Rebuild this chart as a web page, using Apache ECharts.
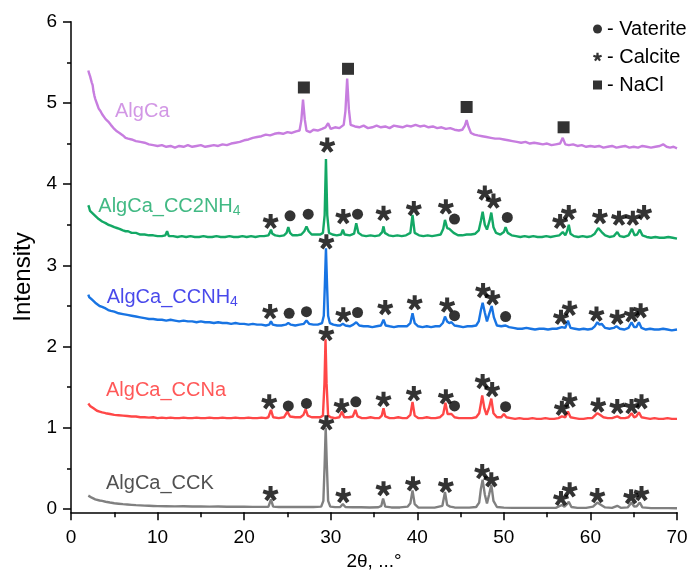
<!DOCTYPE html>
<html>
<head>
<meta charset="utf-8">
<script src="https://cdn.jsdelivr.net/npm/echarts@6/dist/echarts.min.js"></script>
<style>
  html, body { margin: 0; padding: 0; background: #fff; }
  #chart { width: 691px; height: 571px; }
</style>
</head>
<body>
<div id="chart"></div>
<script>
// XRD patterns (2θ in degrees, intensity with vertical offsets per sample)
const algCa = [[2.0,5.40],[2.1,5.36],[2.2,5.33],[2.3,5.31],[2.4,5.25],[2.5,5.22],[2.6,5.14],[2.7,5.09],[2.8,5.05],[2.9,5.02],[3.0,4.99],[3.2,4.93],[3.4,4.90],[3.6,4.86],[3.8,4.84],[4.0,4.80],[4.3,4.77],[4.6,4.73],[5.0,4.68],[5.3,4.65],[5.6,4.63],[6.0,4.60],[6.3,4.57],[6.6,4.56],[7.0,4.55],[7.5,4.53],[8.0,4.52],[8.5,4.51],[9.0,4.49],[9.5,4.48],[10.0,4.47],[10.5,4.48],[11.0,4.46],[11.5,4.47],[12.0,4.45],[12.5,4.47],[13.0,4.46],[13.5,4.48],[14.0,4.46],[14.5,4.47],[15.0,4.48],[15.5,4.46],[16.0,4.47],[16.5,4.48],[17.0,4.47],[17.5,4.49],[18.0,4.48],[18.5,4.50],[19.0,4.51],[19.5,4.52],[20.0,4.54],[20.5,4.55],[21.0,4.57],[21.5,4.58],[22.0,4.59],[22.5,4.61],[23.0,4.60],[23.5,4.62],[24.0,4.63],[24.5,4.62],[25.0,4.64],[25.5,4.63],[26.0,4.65],[26.4,4.66],[26.6,4.78],[26.8,5.04],[27.0,4.80],[27.2,4.66],[27.6,4.64],[28.0,4.67],[28.5,4.66],[29.0,4.68],[29.4,4.70],[29.7,4.75],[30.0,4.68],[30.5,4.70],[31.0,4.69],[31.5,4.73],[31.7,4.90],[31.9,5.30],[32.1,4.92],[32.3,4.73],[32.8,4.71],[33.3,4.70],[33.8,4.72],[34.3,4.69],[34.8,4.70],[35.3,4.72],[35.8,4.70],[36.3,4.71],[36.8,4.69],[37.3,4.72],[37.8,4.71],[38.3,4.70],[38.8,4.72],[39.3,4.71],[39.8,4.73],[40.3,4.71],[40.8,4.72],[41.3,4.70],[41.8,4.71],[42.3,4.69],[42.8,4.70],[43.3,4.68],[43.8,4.69],[44.3,4.67],[44.8,4.66],[45.2,4.67],[45.5,4.72],[45.7,4.79],[45.9,4.71],[46.2,4.63],[46.6,4.61],[47.0,4.60],[47.5,4.59],[48.0,4.58],[48.5,4.57],[49.0,4.56],[49.5,4.56],[50.0,4.55],[50.5,4.54],[51.0,4.53],[51.5,4.52],[52.0,4.51],[52.5,4.52],[53.0,4.50],[53.5,4.51],[54.0,4.50],[54.5,4.49],[55.0,4.50],[55.5,4.48],[56.0,4.49],[56.5,4.50],[56.8,4.57],[57.1,4.49],[57.5,4.48],[58.0,4.49],[58.5,4.47],[59.0,4.48],[59.5,4.46],[60.0,4.47],[60.5,4.46],[61.0,4.47],[61.5,4.45],[62.0,4.46],[62.5,4.47],[63.0,4.45],[63.5,4.46],[64.0,4.47],[64.5,4.45],[65.0,4.46],[65.5,4.45],[66.0,4.47],[66.5,4.46],[67.0,4.45],[67.5,4.46],[68.0,4.47],[68.4,4.49],[68.8,4.46],[69.2,4.45],[69.6,4.46],[70.0,4.44]];

const algCaCC2NH4 = [[2.0,3.74],[2.1,3.71],[2.2,3.67],[2.3,3.68],[2.4,3.65],[2.5,3.64],[2.6,3.62],[2.7,3.63],[2.8,3.61],[3.0,3.59],[3.2,3.57],[3.4,3.56],[3.6,3.54],[3.8,3.53],[4.0,3.52],[4.3,3.50],[4.6,3.49],[5.0,3.47],[5.3,3.46],[5.6,3.45],[6.0,3.43],[6.3,3.42],[6.6,3.42],[7.0,3.40],[7.5,3.40],[8.0,3.38],[8.5,3.38],[9.0,3.37],[9.5,3.37],[10.0,3.36],[10.5,3.36],[10.9,3.37],[11.1,3.42],[11.3,3.36],[11.8,3.36],[12.3,3.35],[12.8,3.36],[13.3,3.35],[13.8,3.36],[14.3,3.35],[14.8,3.35],[15.3,3.36],[15.8,3.35],[16.3,3.35],[16.8,3.36],[17.3,3.35],[17.8,3.35],[18.3,3.36],[18.8,3.35],[19.3,3.35],[19.8,3.36],[20.3,3.35],[20.8,3.36],[21.3,3.35],[21.8,3.36],[22.3,3.36],[22.8,3.37],[23.0,3.41],[23.1,3.44],[23.25,3.39],[23.6,3.37],[24.1,3.36],[24.6,3.37],[24.9,3.40],[25.1,3.47],[25.3,3.40],[25.6,3.37],[26.1,3.37],[26.6,3.38],[26.95,3.42],[27.2,3.48],[27.45,3.42],[27.8,3.38],[28.3,3.38],[28.8,3.38],[29.1,3.40],[29.3,3.62],[29.45,4.31],[29.6,3.62],[29.8,3.40],[30.2,3.38],[30.7,3.37],[31.2,3.38],[31.4,3.44],[31.6,3.38],[32.2,3.37],[32.7,3.39],[32.95,3.52],[33.2,3.40],[33.6,3.37],[34.1,3.36],[34.6,3.37],[35.1,3.36],[35.6,3.37],[35.95,3.41],[36.1,3.48],[36.25,3.40],[36.7,3.37],[37.2,3.36],[37.7,3.37],[38.2,3.36],[38.7,3.37],[39.2,3.40],[39.45,3.62],[39.7,3.40],[40.2,3.37],[40.7,3.36],[41.2,3.37],[41.7,3.36],[42.2,3.37],[42.7,3.38],[43.0,3.45],[43.2,3.56],[43.45,3.46],[43.7,3.45],[43.9,3.47],[44.2,3.40],[44.7,3.37],[45.2,3.37],[45.7,3.38],[46.2,3.38],[46.7,3.39],[47.1,3.43],[47.35,3.55],[47.55,3.66],[47.8,3.50],[48.05,3.44],[48.35,3.55],[48.55,3.65],[48.8,3.47],[49.1,3.40],[49.6,3.38],[50.0,3.41],[50.2,3.47],[50.45,3.40],[50.9,3.37],[51.4,3.36],[51.9,3.35],[52.4,3.36],[52.9,3.35],[53.4,3.36],[53.9,3.35],[54.4,3.35],[54.9,3.36],[55.4,3.35],[55.9,3.36],[56.4,3.37],[56.8,3.41],[57.1,3.37],[57.3,3.42],[57.5,3.50],[57.7,3.39],[58.1,3.36],[58.6,3.35],[59.1,3.36],[59.6,3.35],[60.1,3.36],[60.5,3.39],[60.9,3.46],[61.3,3.41],[61.7,3.37],[62.2,3.35],[62.7,3.36],[63.1,3.41],[63.4,3.36],[63.9,3.35],[64.4,3.37],[64.8,3.45],[65.1,3.37],[65.4,3.38],[65.7,3.44],[66.0,3.37],[66.5,3.35],[67.0,3.34],[67.5,3.35],[68.0,3.34],[68.5,3.34],[69.0,3.35],[69.5,3.34],[70.0,3.33]];

const algCaCCNH4 = [[2.0,2.64],[2.1,2.61],[2.2,2.60],[2.4,2.58],[2.6,2.56],[2.8,2.54],[3.0,2.52],[3.3,2.50],[3.6,2.49],[4.0,2.47],[4.3,2.45],[4.6,2.44],[5.0,2.43],[5.5,2.41],[6.0,2.40],[6.5,2.39],[7.0,2.38],[7.5,2.37],[8.0,2.36],[8.5,2.35],[9.0,2.34],[9.5,2.34],[10.0,2.33],[10.5,2.33],[11.0,2.32],[11.5,2.33],[12.0,2.32],[12.5,2.31],[13.0,2.32],[13.5,2.31],[14.0,2.31],[14.5,2.30],[15.0,2.31],[15.5,2.30],[16.0,2.30],[16.5,2.29],[17.0,2.30],[17.5,2.29],[18.0,2.29],[18.5,2.28],[19.0,2.29],[19.5,2.28],[20.0,2.28],[20.5,2.27],[21.0,2.28],[21.5,2.27],[22.0,2.27],[22.5,2.26],[22.9,2.27],[23.1,2.31],[23.3,2.27],[23.8,2.26],[24.3,2.26],[24.8,2.27],[25.1,2.29],[25.4,2.27],[25.9,2.26],[26.4,2.27],[26.9,2.28],[27.2,2.32],[27.5,2.28],[28.0,2.27],[28.5,2.27],[29.0,2.29],[29.2,2.38],[29.32,2.75],[29.45,3.21],[29.58,2.75],[29.7,2.38],[29.9,2.29],[30.3,2.27],[30.8,2.26],[31.1,2.26],[31.4,2.28],[31.7,2.26],[32.2,2.25],[32.6,2.27],[32.95,2.30],[33.3,2.26],[33.8,2.25],[34.3,2.25],[34.8,2.24],[35.3,2.25],[35.8,2.26],[36.1,2.33],[36.35,2.26],[36.8,2.25],[37.3,2.24],[37.8,2.25],[38.3,2.25],[38.8,2.25],[39.2,2.29],[39.45,2.41],[39.7,2.29],[40.1,2.25],[40.6,2.24],[41.1,2.25],[41.6,2.24],[42.1,2.25],[42.6,2.25],[42.95,2.29],[43.2,2.37],[43.45,2.31],[43.7,2.29],[43.95,2.30],[44.3,2.26],[44.8,2.25],[45.3,2.24],[45.8,2.25],[46.3,2.25],[46.8,2.26],[47.1,2.31],[47.35,2.45],[47.55,2.54],[47.8,2.42],[48.05,2.31],[48.3,2.40],[48.6,2.50],[48.85,2.36],[49.2,2.26],[49.7,2.25],[50.2,2.26],[50.6,2.24],[51.1,2.23],[51.6,2.22],[52.1,2.22],[52.6,2.23],[53.1,2.22],[53.6,2.21],[54.1,2.22],[54.6,2.22],[55.1,2.21],[55.6,2.22],[56.1,2.22],[56.7,2.24],[57.1,2.23],[57.4,2.32],[57.7,2.23],[58.2,2.22],[58.7,2.21],[59.2,2.22],[59.7,2.21],[60.2,2.22],[60.5,2.25],[60.8,2.30],[61.05,2.27],[61.3,2.28],[61.7,2.23],[62.2,2.22],[62.7,2.23],[63.0,2.25],[63.4,2.22],[63.9,2.21],[64.4,2.23],[64.75,2.30],[65.05,2.24],[65.3,2.24],[65.6,2.30],[65.9,2.23],[66.4,2.21],[66.9,2.22],[67.4,2.21],[67.9,2.21],[68.4,2.22],[68.9,2.21],[69.4,2.20],[70.0,2.21]];

const algCaCCNa = [[2.0,1.30],[2.1,1.28],[2.2,1.27],[2.4,1.25],[2.6,1.24],[2.8,1.22],[3.0,1.21],[3.3,1.20],[3.6,1.19],[4.0,1.18],[4.5,1.17],[5.0,1.16],[5.5,1.155],[6.0,1.15],[6.5,1.145],[7.0,1.14],[7.5,1.14],[8.0,1.13],[8.5,1.13],[9.0,1.125],[9.5,1.13],[10.0,1.12],[10.5,1.125],[11.0,1.12],[11.5,1.125],[12.0,1.12],[12.5,1.12],[13.0,1.125],[13.5,1.12],[14.0,1.12],[14.5,1.125],[15.0,1.12],[15.5,1.12],[16.0,1.125],[16.5,1.12],[17.0,1.12],[17.5,1.125],[18.0,1.12],[18.5,1.12],[19.0,1.125],[19.5,1.12],[20.0,1.12],[20.5,1.125],[21.0,1.12],[21.5,1.12],[22.0,1.125],[22.5,1.12],[22.8,1.13],[23.1,1.22],[23.35,1.13],[24.0,1.12],[24.6,1.13],[25.0,1.20],[25.3,1.14],[25.9,1.13],[26.5,1.13],[26.85,1.16],[27.1,1.23],[27.35,1.15],[27.8,1.13],[28.3,1.13],[28.8,1.13],[29.1,1.15],[29.28,1.55],[29.4,2.09],[29.52,1.55],[29.7,1.15],[30.0,1.13],[30.5,1.12],[31.0,1.13],[31.3,1.20],[31.55,1.13],[32.1,1.13],[32.55,1.14],[32.85,1.22],[33.1,1.14],[33.6,1.12],[34.1,1.12],[34.6,1.13],[35.1,1.12],[35.6,1.12],[35.9,1.15],[36.1,1.24],[36.3,1.14],[36.8,1.12],[37.3,1.12],[37.8,1.13],[38.3,1.12],[38.8,1.12],[39.2,1.16],[39.45,1.32],[39.7,1.15],[40.1,1.12],[40.6,1.12],[41.1,1.13],[41.6,1.12],[42.1,1.12],[42.6,1.13],[43.0,1.17],[43.25,1.31],[43.5,1.17],[43.7,1.16],[43.95,1.17],[44.3,1.13],[44.8,1.12],[45.3,1.12],[45.8,1.12],[46.3,1.12],[46.8,1.13],[47.15,1.18],[47.35,1.30],[47.5,1.40],[47.75,1.24],[48.0,1.16],[48.3,1.25],[48.55,1.36],[48.8,1.18],[49.2,1.13],[49.7,1.13],[50.0,1.17],[50.3,1.13],[50.8,1.12],[51.3,1.11],[51.8,1.12],[52.3,1.11],[52.8,1.11],[53.3,1.12],[53.8,1.11],[54.3,1.11],[54.8,1.12],[55.3,1.11],[55.8,1.11],[56.3,1.12],[56.7,1.14],[57.1,1.13],[57.4,1.20],[57.7,1.13],[58.2,1.12],[58.7,1.11],[59.2,1.11],[59.7,1.12],[60.2,1.12],[60.5,1.15],[60.8,1.18],[61.1,1.16],[61.5,1.13],[62.0,1.12],[62.5,1.12],[63.1,1.14],[63.5,1.12],[64.0,1.12],[64.4,1.13],[64.75,1.18],[65.05,1.13],[65.3,1.14],[65.6,1.19],[65.9,1.13],[66.4,1.12],[66.9,1.11],[67.4,1.12],[67.9,1.11],[68.4,1.11],[68.9,1.12],[69.4,1.11],[70.0,1.11]];

const algCaCCK = [[2.0,0.165],[2.1,0.155],[2.2,0.15],[2.4,0.14],[2.6,0.13],[2.8,0.12],[3.0,0.115],[3.3,0.105],[3.6,0.10],[4.0,0.09],[4.5,0.08],[5.0,0.072],[5.5,0.066],[6.0,0.06],[6.5,0.056],[7.0,0.052],[7.5,0.048],[8.0,0.045],[8.5,0.042],[9.0,0.04],[9.5,0.038],[10.0,0.036],[11.0,0.035],[12.0,0.033],[13.0,0.034],[14.0,0.032],[15.0,0.031],[16.0,0.03],[17.0,0.031],[18.0,0.029],[19.0,0.028],[20.0,0.028],[21.0,0.027],[22.0,0.027],[22.8,0.028],[23.1,0.12],[23.35,0.03],[24.0,0.026],[25.0,0.026],[26.0,0.025],[27.0,0.026],[28.0,0.026],[28.9,0.03],[29.15,0.10],[29.3,0.55],[29.42,1.00],[29.55,0.55],[29.7,0.10],[29.95,0.03],[30.5,0.024],[31.1,0.025],[31.4,0.06],[31.7,0.025],[32.5,0.022],[33.5,0.022],[34.5,0.02],[35.5,0.022],[35.85,0.04],[36.05,0.13],[36.3,0.03],[37.0,0.02],[38.0,0.02],[38.9,0.03],[39.2,0.07],[39.45,0.23],[39.7,0.06],[40.1,0.02],[41.0,0.018],[42.0,0.018],[42.9,0.04],[43.2,0.21],[43.45,0.05],[43.8,0.03],[44.3,0.02],[45.0,0.018],[46.0,0.018],[46.8,0.025],[47.15,0.08],[47.35,0.25],[47.55,0.36],[47.8,0.18],[48.05,0.07],[48.3,0.18],[48.55,0.30],[48.8,0.10],[49.2,0.025],[50.0,0.018],[51.0,0.015],[52.0,0.015],[53.0,0.015],[54.0,0.014],[55.0,0.015],[56.0,0.015],[56.7,0.05],[57.0,0.03],[57.3,0.06],[57.5,0.09],[57.8,0.025],[58.5,0.015],[59.5,0.014],[60.3,0.03],[60.8,0.08],[61.1,0.06],[61.3,0.06],[61.7,0.02],[62.5,0.014],[63.1,0.04],[63.5,0.015],[64.3,0.02],[64.75,0.08],[65.05,0.03],[65.35,0.035],[65.7,0.08],[66.0,0.02],[67.0,0.012],[68.0,0.012],[69.0,0.012],[70.0,0.01]];

// Phase markers placed above the reflections
const vateriteMarks = [[25.3,3.61],[27.4,3.63],[33.1,3.63],[44.3,3.57],[50.4,3.59],
  [25.2,2.41],[27.2,2.43],[33.1,2.42],[44.3,2.38],[50.2,2.37],
  [25.1,1.27],[27.2,1.30],[32.9,1.32],[44.3,1.27],[50.2,1.26]];
const calciteMarks = [[23.06,3.54],[29.6,4.48],[31.45,3.60],[36.1,3.64],[39.6,3.70],[43.3,3.72],[47.8,3.89],[48.8,3.79],[56.5,3.54],[57.5,3.65],[61.1,3.60],[63.3,3.58],[64.9,3.58],[66.2,3.65],
  [23.0,2.43],[29.5,3.29],[31.45,2.39],[36.3,2.48],[39.7,2.54],[43.45,2.51],[47.6,2.69],[48.7,2.60],[56.6,2.36],[57.6,2.47],[60.7,2.40],[63.1,2.36],[64.75,2.39],[65.8,2.44],
  [22.9,1.32],[29.5,2.16],[31.25,1.27],[36.1,1.35],[39.6,1.42],[43.3,1.38],[47.55,1.57],[48.65,1.47],[56.7,1.24],[57.6,1.34],[60.9,1.28],[63.1,1.26],[64.75,1.26],[65.9,1.32],
  [23.05,0.19],[29.5,1.06],[31.45,0.165],[36.1,0.25],[39.5,0.31],[43.3,0.29],[47.5,0.46],[48.55,0.36],[56.6,0.13],[57.6,0.235],[60.8,0.165],[64.7,0.15],[65.9,0.19]];
const naclMarks = [[26.9,5.19],[32.0,5.42],[45.7,4.95],[56.9,4.70]];

// Sample names and where they sit on the plot
const sampleNames = ['AlgCa', 'AlgCa_CC2NH{sub|4}', 'AlgCa_CCNH{sub|4}', 'AlgCa_CCNa', 'AlgCa_CCK'];
const sampleNamePos = [[5.08,4.90],[3.15,3.72],[4.12,2.60],[4.04,1.46],[4.04,0.32]];

const yTicks = [0, 1, 2, 3, 4, 5, 6];
const yMinorTicks = [0.5, 1.5, 2.5, 3.5, 4.5, 5.5];

const lineColors = ['#c77ddf', '#13a865', '#1874e3', '#ff4747', '#808080'];
const nameColors = ['#c77ddf', '#13a865', '#1a1ae6', '#ff2e2e', '#262626'];
const FONT = '"Liberation Sans", Arial, sans-serif';

// five-armed asterisk glyph as a symbol path
function asteriskPath(armHalfWidth) {
  const L = 10, w = armHalfWidth;
  let d = '';
  [-90, -18, 54, 126, 198].forEach(function (deg) {
    const r = deg * Math.PI / 180, c = Math.cos(r), s = Math.sin(r);
    const px = -s * w, py = c * w;
    const pts = [[px, py], [L * c + px, L * s + py], [L * c - px, L * s - py], [-px, -py]];
    d += 'M' + pts.map(function (p) { return p[0].toFixed(3) + ' ' + p[1].toFixed(3); }).join(' L') + ' Z ';
  });
  return 'path://' + d;
}
const STAR = asteriskPath(2.6);

const chart = echarts.init(document.getElementById('chart'), null, { renderer: 'canvas' });

const patterns = [algCa, algCaCC2NH4, algCaCCNH4, algCaCCNa, algCaCCK];
const lineSeries = patterns.map(function (d, i) {
  return {
    type: 'line', data: d, showSymbol: false, symbol: 'none',
    lineStyle: { color: lineColors[i], width: 2.4 },
    itemStyle: { color: lineColors[i] },
    silent: true, z: 2
  };
});

chart.setOption({
  animation: false,
  backgroundColor: '#ffffff',
  textStyle: { fontFamily: FONT },
  grid: { left: 71, right: 14, top: 21.7, bottom: 58.7, containLabel: false, outerBoundsMode: 'none' },
  legend: {
    orient: 'vertical', left: 588, top: 14, itemWidth: 9, itemHeight: 9, itemGap: 8,
    selectedMode: false,
    formatter: '- {name}',
    textStyle: { fontSize: 20, color: '#000', fontFamily: FONT },
    data: [{ name: 'Vaterite', icon: 'circle' }, { name: 'Calcite', icon: STAR }, { name: 'NaCl', icon: 'rect' }]
  },
  xAxis: {
    type: 'value', min: 0, max: 70, interval: 10,
    name: '2θ, ...°', nameLocation: 'middle', nameGap: 36,
    nameTextStyle: { fontSize: 19, color: '#000', fontFamily: FONT },
    axisLine: { show: true, onZero: false, lineStyle: { color: '#000', width: 1.5 } },
    axisTick: { show: true, length: 8, lineStyle: { color: '#000', width: 1.5 } },
    minorTick: { show: true, splitNumber: 2, length: 5, lineStyle: { color: '#000', width: 1.5 } },
    axisLabel: { fontSize: 19, color: '#000', margin: 16, fontFamily: FONT },
    splitLine: { show: false }
  },
  yAxis: [{
    type: 'value', min: -0.04, max: 6, position: 'left',
    name: 'Intensity', nameLocation: 'middle', nameGap: 36,
    nameTextStyle: { fontSize: 24, color: '#000', fontFamily: FONT, padding: [0, 20, 0, 0] },
    axisLine: { show: true, onZero: false, lineStyle: { color: '#000', width: 1.5 } },
    axisTick: { show: true, length: 8, customValues: yTicks, lineStyle: { color: '#000', width: 1.5 } },
    axisLabel: { fontSize: 19, color: '#000', margin: 14, customValues: yTicks, fontFamily: FONT },
    splitLine: { show: false }
  }, {
    type: 'value', min: -0.04, max: 6, position: 'left',
    axisLine: { show: false },
    axisTick: { show: true, length: 4, customValues: yMinorTicks, lineStyle: { color: '#000', width: 1.5 } },
    axisLabel: { show: false },
    splitLine: { show: false }
  }],
  series: lineSeries.concat([
    {
      name: 'Vaterite', type: 'scatter', data: vateriteMarks, symbol: 'circle', symbolSize: 11,
      itemStyle: { color: '#000' }, z: 5, silent: true
    },
    {
      name: 'Calcite', type: 'scatter', data: calciteMarks, symbol: STAR, symbolSize: 16, symbolKeepAspect: true,
      itemStyle: { color: '#000' }, z: 5, silent: true
    },
    {
      name: 'NaCl', type: 'scatter', data: naclMarks, symbol: 'rect', symbolSize: 12,
      itemStyle: { color: '#000' }, z: 5, silent: true
    },
    {
      type: 'scatter', symbolSize: 0.1, itemStyle: { color: 'rgba(0,0,0,0)' }, z: 6, silent: true,
      data: sampleNamePos.map(function (p, i) {
        return {
          value: p,
          label: {
            show: true, position: 'right', distance: 0, formatter: sampleNames[i],
            color: nameColors[i], fontSize: 20, fontFamily: FONT,
            rich: { sub: { fontSize: 14, color: nameColors[i], padding: [9, 0, 0, 0], fontFamily: FONT } }
          }
        };
      })
    }
  ])
});
</script>
</body>
</html>
